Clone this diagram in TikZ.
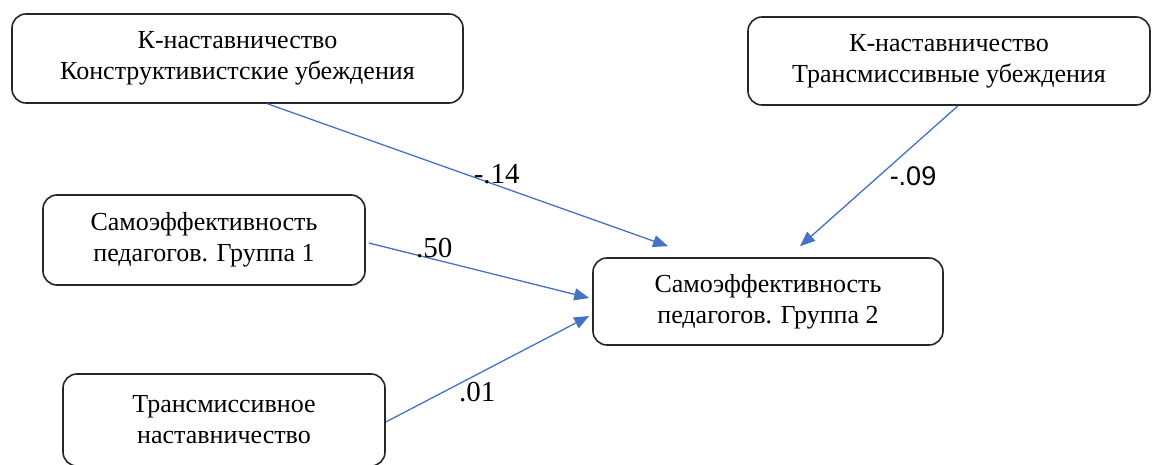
\documentclass[tikz,border=0pt]{standalone}
\usepackage{fontspec}
\setmainfont{Liberation Serif}
\newfontfamily\labelsans{Liberation Sans}
\usetikzlibrary{arrows.meta,positioning,calc}
\definecolor{pathBlue}{RGB}{68,114,196}
\definecolor{boxLine}{RGB}{38,38,38}
\tikzset{
    every node/.append style={align=center},
    box/.style={rectangle,draw=boxLine,line width=1.6pt,rounded corners=14pt,inner sep=0pt,
        font=\fontsize{26}{31}\selectfont},
    arr/.style={-{Triangle[length=15pt,width=12pt]},draw=pathBlue,line width=1.3pt},
    lbl/.style={font=\fontsize{29}{30}\selectfont,inner sep=0pt}
}
\begin{document}
\begin{tikzpicture}[x=1pt,y=-1pt]
    \useasboundingbox (0,0) rectangle (1155,465);

    \node[box,minimum width=451pt,minimum height=89pt] (kcon) at (237.5,58.5) {К-наставничество\\Конструктивистские убеждения};
    \node[box,minimum width=402pt,minimum height=88pt] (ktr)  at (949,61)    {К-наставничество\\Трансмиссивные убеждения};
    \node[box,minimum width=322pt,minimum height=90pt] (grp1) at (204,240)   {Самоэффективность\\педагогов. Группа 1};
    \node[box,minimum width=350pt,minimum height=87pt] (grp2) at (768,301.5) {Самоэффективность\\педагогов. Группа 2};
    \node[box,minimum width=322pt,minimum height=92pt] (trn)  at (224,420)   {Трансмиссивное\\наставничество};

    \draw[arr] ([xshift=30pt]kcon.south) -- node[lbl,pos=.5725,yshift=11pt]{-.14} ([xshift=-100pt,yshift=11pt]grp2.north);
    \draw[arr] ([xshift=9pt]ktr.south) -- node[lbl,pos=.5,xshift=34pt,font=\labelsans\fontsize{27}{30}\selectfont]{-.09} ([xshift=32pt,yshift=11pt]grp2.north);
    \draw[arr] ([xshift=3pt,yshift=-3pt]grp1.east) -- node[lbl,pos=.297,yshift=11pt]{.50} ([xshift=-3pt,yshift=3.5pt]grp2.west);
    \draw[arr] ([yshift=-2pt]trn.east) -- node[lbl,pos=.449,yshift=-18pt]{.01} ([xshift=-3pt,yshift=-14.5pt]grp2.west);
\end{tikzpicture}
\end{document}
